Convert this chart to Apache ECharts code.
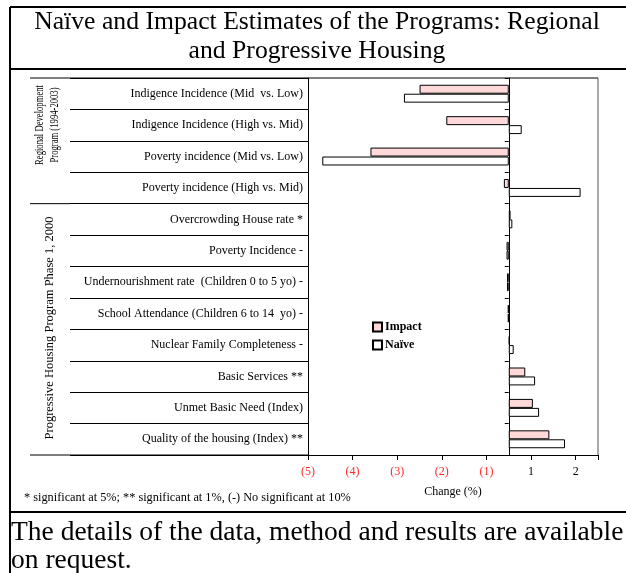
<!DOCTYPE html>
<html>
<head>
<meta charset="utf-8">
<script src="https://cdn.jsdelivr.net/npm/echarts@6/dist/echarts.min.js"></script>
<style>
  html, body { margin: 0; padding: 0; background: #fff; }
  #main { width: 626px; height: 573px; }
</style>
</head>
<body>
<div id="main"></div>
<script>
// 数据
const categories = [
  'Indigence Incidence (Mid  vs. Low)',
  'Indigence Incidence (High vs. Mid)',
  'Poverty incidence (Mid vs. Low)',
  'Poverty incidence (High vs. Mid)',
  'Overcrowding House rate *',
  'Poverty Incidence -',
  'Undernourishment rate  (Children 0 to 5 yo) -',
  'School Attendance (Children 6 to 14  yo) -',
  'Nuclear Family Completeness -',
  'Basic Services **',
  'Unmet Basic Need (Index)',
  'Quality of the housing (Index) **'
];
const impact = [-2.0, -1.40, -3.10, -0.11, 0.04, -0.05, -0.04, -0.02, 0.02, 0.37, 0.54, 0.91];
const naive = [-2.35, 0.29, -4.18, 1.61, 0.08, -0.05, -0.04, -0.02, 0.11, 0.59, 0.68, 1.26];
const tickLabels = ['(5)', '(4)', '(3)', '(2)', '(1)', '1', '2'];

const serif = 'Liberation Serif';
// 绘图区位置
const plotLeft = 308, plotTop = 78, plotW = 290, plotH = 377;
const rowH = plotH / categories.length;

let myChart = echarts.init(document.getElementById('main'));

function hline(x1, x2, y, w, c) {
  return { type: 'line', shape: { x1: x1, y1: y, x2: x2, y2: y }, style: { stroke: c || '#000', lineWidth: w || 1 }, z: 10 };
}
function vline(x, y1, y2, w, c) {
  return { type: 'line', shape: { x1: x, y1: y1, x2: x, y2: y2 }, style: { stroke: c || '#000', lineWidth: w || 1 }, z: 10 };
}

myChart.setOption({
  animation: false,
  grid: [
    { left: plotLeft, top: plotTop, width: plotW, height: plotH },
    { left: plotLeft, top: plotTop, width: plotW, height: plotH },
    { left: 70, top: plotTop, width: plotLeft - 70, height: plotH }
  ],
  xAxis: [
    {
      gridIndex: 0,
      type: 'value',
      min: -4.5,
      max: 2,
      interval: 1,
      splitLine: { show: false },
      axisLine: { show: true, lineStyle: { color: '#000', width: 1 } },
      axisTick: { show: true, length: 5, lineStyle: { color: '#000' } },
      axisLabel: {
        margin: 11,
        fontFamily: serif,
        fontSize: 12,
        formatter: function (v) { return tickLabels[Math.round(v + 4.5)]; },
        color: function (v) { return v < 0 ? '#ff2a2a' : '#000'; }
      },
      name: 'Change (%)',
      nameLocation: 'middle',
      nameGap: 31,
      nameTextStyle: { fontFamily: serif, fontSize: 12, color: '#000' }
    },
    {
      gridIndex: 1, type: 'value', min: -4.5, max: 2,
      axisLine: { show: false }, axisTick: { show: false }, axisLabel: { show: false }, splitLine: { show: false }
    },
    {
      gridIndex: 2, type: 'value', min: 0, max: 1, show: false
    }
  ],
  yAxis: [
    {
      gridIndex: 0,
      type: 'category',
      inverse: true,
      data: categories,
      axisLine: { show: true, onZero: false, lineStyle: { color: '#000' } },
      axisTick: { show: false },
      axisLabel: { margin: 5, fontFamily: serif, fontSize: 12, color: '#000' }
    },
    {
      gridIndex: 1,
      type: 'category',
      inverse: true,
      data: categories,
      axisLine: { show: true, onZero: true, lineStyle: { color: '#000' } },
      axisTick: { show: true, length: 4, lineStyle: { color: '#000' } },
      axisLabel: { show: false }
    },
    {
      gridIndex: 2,
      type: 'category',
      inverse: true,
      data: categories,
      axisLine: { show: false },
      axisTick: { show: false },
      axisLabel: { show: false },
      splitLine: { show: true, lineStyle: { color: '#000', width: 1 } }
    }
  ],
  legend: {
    data: ['Impact', 'Naïve'],
    orient: 'vertical',
    left: 367,
    top: 316,
    itemWidth: 9,
    itemHeight: 9,
    itemGap: 6,
    icon: 'rect',
    textStyle: { fontFamily: serif, fontSize: 12, fontWeight: 'bold', color: '#000', padding: [0, 0, 0, -2] }
  },
  series: [
    {
      name: 'Impact',
      type: 'bar',
      xAxisIndex: 0,
      yAxisIndex: 0,
      data: impact,
      barGap: '0%',
      barCategoryGap: '43%',
      itemStyle: { color: '#ffd9d9', borderColor: '#000', borderWidth: 1 }
    },
    {
      name: 'Naïve',
      type: 'bar',
      xAxisIndex: 0,
      yAxisIndex: 0,
      data: naive,
      barGap: '0%',
      barCategoryGap: '43%',
      itemStyle: { color: '#ffffff', borderColor: '#000', borderWidth: 1 }
    }
  ],
  graphic: [
    // 外框
    vline(10, 7, 573, 2),
    hline(10, 626, 7, 2),
    hline(10, 626, 69, 2),
    hline(10, 626, 512, 2),
    // 表格线
    hline(30, plotLeft + plotW, plotTop, 1),
    hline(30, plotLeft, plotTop + plotH, 1),
    hline(30, 70, plotTop + 4 * rowH, 1),
    vline(plotLeft + plotW, plotTop, plotTop + plotH, 1, '#555'),
    // 标题
    {
      type: 'text', x: 317, y: 22,
      style: { text: 'Naïve and Impact Estimates of the Programs: Regional', font: '25.7px "Liberation Serif"', fill: '#000', align: 'center', verticalAlign: 'middle' }
    },
    {
      type: 'text', x: 317, y: 51,
      style: { text: 'and Progressive Housing', font: '25.7px "Liberation Serif"', fill: '#000', align: 'center', verticalAlign: 'middle' }
    },
    // 分组标签（横向压缩）
    {
      type: 'text', x: 40, y: 125, rotation: Math.PI / 2, scaleX: 0.72,
      style: { text: 'Regional Development', font: '12px "Liberation Serif"', fill: '#000', align: 'center', verticalAlign: 'middle' }
    },
    {
      type: 'text', x: 55, y: 125, rotation: Math.PI / 2, scaleX: 0.72,
      style: { text: 'Program (1994-2003)', font: '12px "Liberation Serif"', fill: '#000', align: 'center', verticalAlign: 'middle' }
    },
    {
      type: 'text', x: 50, y: 328, rotation: Math.PI / 2,
      style: { text: 'Progressive Housing Program Phase 1, 2000', font: '12.5px "Liberation Serif"', fill: '#000', align: 'center', verticalAlign: 'middle' }
    },
    // 注释
    {
      type: 'text', x: 24, y: 498,
      style: { text: '* significant at 5%; ** significant at 1%, (-) No significant at 10%', font: '12.3px "Liberation Serif"', fill: '#000', align: 'left', verticalAlign: 'middle' }
    },
    {
      type: 'text', x: 11, y: 533,
      style: { text: 'The details of the data, method and results are available', font: '27.5px "Liberation Serif"', fill: '#000', align: 'left', verticalAlign: 'middle' }
    },
    {
      type: 'text', x: 11, y: 561,
      style: { text: 'on request.', font: '27.5px "Liberation Serif"', fill: '#000', align: 'left', verticalAlign: 'middle' }
    }
  ]
});
</script>
</body>
</html>
